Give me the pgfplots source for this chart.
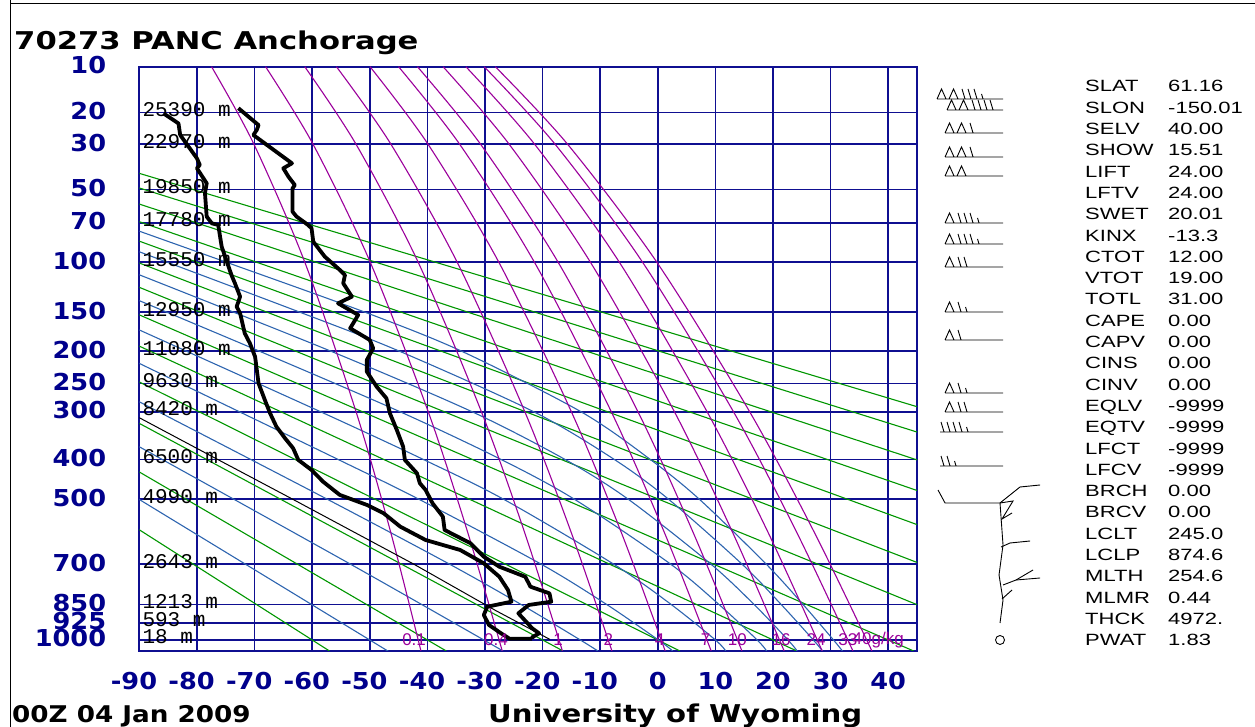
\documentclass[border=0pt]{standalone}
\usepackage{pgfplots}
\pgfplotsset{compat=1.18}
\usepackage{fontspec}
\setmainfont{Liberation Sans}
\newfontfamily\tickfont{DejaVu Sans}[FakeStretch=1.1]
\newfontfamily\titlefont{DejaVu Sans}[FakeStretch=1.25]
\newfontfamily\datefont{DejaVu Sans}[FakeStretch=1.14]
\newfontfamily\unifont{DejaVu Sans}[FakeStretch=1.19]
\newfontfamily\statfont{Liberation Sans}[FakeStretch=1.35]
\newfontfamily\hgtfont{Liberation Mono}
\definecolor{gridnavy}{RGB}{15,15,145}
\definecolor{labnavy}{RGB}{0,0,140}
\definecolor{dagreen}{RGB}{0,150,0}
\definecolor{mablue}{RGB}{45,100,175}
\definecolor{mrpurple}{RGB}{155,0,155}
\pgfplotsset{table/skt/.style={x=T, y expr={0-pow(\thisrow{p},0.286)}, row sep=\\}}
\pgfplotsset{dry/.style={dagreen, line width=1.1bp},
  moist/.style={mablue, line width=1.1bp, smooth},
  mixr/.style={mrpurple, line width=1.1bp, smooth}}
\newcommand\hgt[2]{\node[anchor=base west, inner sep=0pt, font=\hgtfont\fontsize{21bp}{21bp}\selectfont, xshift=3bp, yshift=-4bp] at (axis cs:-90,-#1) {#2};}
\newcommand\mrl[2]{\node[anchor=center, inner sep=0pt, text=mrpurple, font=\fontsize{17bp}{17bp}\selectfont] at (axis cs:#1,-7.21117) {#2};}
% wind barb: x-start, y (px from top), pennants, full barbs, half barb
\newcommand\wbarb[5]{%
  \pgfmathsetmacro\bY{727-#2}%
  \pgfmathsetmacro\bT{\bY+10}%
  \pgfmathsetmacro\bH{\bY+5}%
  \xdef\bx{#1}%
  \xdef\bcoords{(\bx,\bY)}%
  \ifnum#3>0\relax
    \foreach \i in {1,...,#3}{%
      \pgfmathsetmacro\xa{\bx+4.5}\pgfmathsetmacro\xb{\bx+9}\pgfmathsetmacro\xd{\bx+12}%
      \xdef\bcoords{\bcoords (\xa,\bT) (\xb,\bY) (\bx,\bY) (\xd,\bY)}%
      \xdef\bx{\xd}}%
  \fi
  \ifnum#4>0\relax
    \foreach \i in {1,...,#4}{%
      \pgfmathsetmacro\xa{\bx+4}\pgfmathsetmacro\xb{\bx+6}\pgfmathsetmacro\xc{\bx+1}%
      \xdef\bcoords{\bcoords (\xa,\bY) (\xc,\bT) (\xa,\bY) (\xb,\bY)}%
      \xdef\bx{\xb}}%
  \fi
  \ifnum#5>0\relax
      \pgfmathsetmacro\xa{\bx+4}\pgfmathsetmacro\xb{\bx+6}\pgfmathsetmacro\xc{\bx+2.5}%
      \xdef\bcoords{\bcoords (\xa,\bY) (\xc,\bH) (\xa,\bY) (\xb,\bY)}%
  \fi
  \xdef\bcoords{\bcoords (1003,\bY)}%
  \edef\tmp{\noexpand\addplot[black, line width=0.9bp] coordinates {\bcoords};}\tmp
}
\begin{document}
\begin{tikzpicture}
\useasboundingbox (0,0) rectangle (1255bp,727bp);
\begin{axis}[
  at={(139.3bp,76bp)}, anchor=south west, scale only axis,
  width=777.7bp, height=584.3bp,
  xmin=-90, xmax=45, ymin=-7.3125, ymax=-1.93195,
  axis line style={draw=gridnavy, line width=1.7bp},
  grid=major, major grid style={draw=gridnavy, line width=1.6bp},
  major tick length=0pt,
  xtick={-90,-80,...,40},
  xticklabels={\llap{-}90,\llap{-}80,\llap{-}70,\llap{-}60,\llap{-}50,\llap{-}40,\llap{-}30,\llap{-}20,\llap{-}10,0,10,20,30,40},
  ytick={-1.93195,-2.35553,-2.64516,-3.06124,-3.37048,-3.73250,-4.19144,-4.55090,-4.85087,-5.11051,-5.54872,-5.91437,-6.51176,-6.88362,-7.05215,-7.21117},
  yticklabels={10,20,30,50,70,100,150,200,250,300,400,500,700,850,925,1000},
  xticklabel style={font=\tickfont\bfseries\fontsize{23.3bp}{26bp}\selectfont, text=labnavy, anchor=base, inner sep=0pt, yshift=-39bp},
  yticklabel style={font=\tickfont\bfseries\fontsize{23.3bp}{26bp}\selectfont, text=labnavy, anchor=base east, inner sep=0pt, xshift=-33bp, yshift=-7bp},
  clip=true,
]
% dry adiabats (theta = -60 ... 180 C)
\addplot[dry] table[skt]{T p\\-90 588.6\\-57.00 1050\\};
\addplot[dry] table[skt]{T p\\-90 429.9\\-36.72 1050\\};
\addplot[dry] table[skt]{T p\\-90 322.4\\-16.44 1050\\};
\addplot[dry] table[skt]{T p\\-90 247.2\\3.84 1050\\};
\addplot[dry] table[skt]{T p\\-90 193.1\\24.12 1050\\};
\addplot[dry] table[skt]{T p\\-90 153.3\\44.40 1050\\};
\addplot[dry] table[skt]{T p\\-90 123.4\\45 851.1\\};
\addplot[dry] table[skt]{T p\\-90 100.7\\45 694.6\\};
\addplot[dry] table[skt]{T p\\-90 83.0\\45 572.8\\};
\addplot[dry] table[skt]{T p\\-90 69.2\\45 476.9\\};
\addplot[dry] table[skt]{T p\\-90 58.2\\45 401.1\\};
\addplot[dry] table[skt]{T p\\-90 49.3\\45 340.0\\};
\addplot[dry] table[skt]{T p\\-90 42.1\\45 290.4\\};
% moist adiabats (theta-e = -50 ... 110 C)
\addplot[moist] table[skt]{T p\\32.05 1050\\30.5 1000\\25.2 850\\18.8 700\\7.2 500\\-1.3 400\\-13.3 300\\-34.1 200\\-50.9 150\\-74.9 100\\-90 75.7\\};
\addplot[moist] table[skt]{T p\\28.6 1050\\27.0 1000\\21.4 850\\14.6 700\\1.85 500\\-7.55 400\\-21.5 300\\-44.9 200\\-62.2 150\\-90 91.3\\};
\addplot[moist] table[skt]{T p\\24.2 1050\\22.6 1000\\16.7 850\\9.2 700\\-5.15 500\\-16.1 400\\-32.2 300\\-56.8 200\\-90 111.3\\};
\addplot[moist] table[skt]{T p\\18.9 1050\\17.25 1000\\10.6 850\\2.2 700\\-14.5 500\\-27.2 400\\-44.7 300\\-69.2 200\\-90 137.3\\};
\addplot[moist] table[skt]{T p\\11.8 1050\\10 1000\\2.3 850\\-7.7 700\\-26.8 500\\-40.7 400\\-58.5 300\\-90 171.7\\};
\addplot[moist] table[skt]{T p\\2.6 1050\\0.1 1000\\-8.9 850\\-20.3 700\\-41.5 500\\-55.5 400\\-72.6 300\\-90 218.0\\};
\addplot[moist] table[skt]{T p\\-10.4 1050\\-13.45 1000\\-23.76 850\\-36.2 700\\-57.4 500\\-90 281.5\\};
\addplot[moist] table[skt]{T p\\-26.9 1050\\-30.2 1000\\-53.4 700\\-90 371.4\\};
\addplot[moist] table[skt]{T p\\-46.9 1050\\-50 1000\\-90 501\\};
% mixing ratio lines (g/kg)
\addplot[mixr] table[skt]{T p\\-41.11 1050\\-46.30 600\\-52.37 300\\-61.27 100\\-70.11 30\\-77.46 10\\};
\addplot[mixr] table[skt]{T p\\-27.00 1050\\-32.93 600\\-39.84 300\\-49.91 100\\-59.85 30\\-68.08 10\\};
\addplot[mixr] table[skt]{T p\\-16.55 1050\\-23.05 600\\-30.61 300\\-41.59 100\\-52.39 30\\-61.28 10\\};
\addplot[mixr] table[skt]{T p\\-7.96 1050\\-14.96 600\\-23.07 300\\-34.82 100\\-46.33 30\\-55.78 10\\};
\addplot[mixr] table[skt]{T p\\1.29 1050\\-6.26 600\\-14.99 300\\-27.59 100\\-39.89 30\\-49.95 10\\};
\addplot[mixr] table[skt]{T p\\9.27 1050\\1.22 600\\-8.06 300\\-21.41 100\\-34.40 30\\-45.00 10\\};
\addplot[mixr] table[skt]{T p\\14.61 1050\\6.22 600\\-3.43 300\\-17.30 100\\-30.77 30\\-41.72 10\\};
\addplot[mixr] table[skt]{T p\\21.94 1050\\13.08 600\\2.90 300\\-11.69 100\\-25.81 30\\-37.27 10\\};
\addplot[mixr] table[skt]{T p\\28.54 1050\\19.24 600\\8.57 300\\-6.67 100\\-21.39 30\\-33.31 10\\};
\addplot[mixr] table[skt]{T p\\33.88 1050\\24.22 600\\13.15 300\\-2.64 100\\-17.84 30\\-30.14 10\\};
\addplot[mixr] table[skt]{T p\\37.17 1050\\27.28 600\\15.96 300\\-0.16 100\\-15.67 30\\-28.20 10\\};
% parcel path
\addplot[black, line width=1bp] table[skt]{T p\\-18.74 997.4\\-28.15 874.6\\-42.4 700\\-63.4 500\\-76.4 400\\-90 311.3\\};
% dew point
\addplot[black, line width=3.8bp, line join=round] table[skt]{T p\\
-85.8 20.2\\-83.2 23.1\\-82.9 26.8\\-80.0 35.5\\-79.5 38.3\\-80.0 39.8\\-78.3 46.9\\-78.6 52.1\\
-78.3 65.9\\-77.4 70.3\\-76.3 71.4\\-75.7 87.2\\-74.8 99.6\\-74.0 111.5\\-73.4 119.4\\-72.5 133.0\\
-73.1 143.9\\-72.5 151.4\\-71.7 175.9\\-70.8 189.2\\-69.9 208.1\\-69.3 249.4\\-68.2 278.3\\-67.3 302.7\\
-66.2 329.0\\-64.7 353.0\\-63.3 374.6\\-62.4 401.2\\-60.1 425.0\\-58.1 454.1\\-55.2 488.6\\-50.5 515.9\\
-47.6 539.3\\-44.7 579.0\\-40.3 620.4\\-34.3 652.7\\-30.2 697.6\\-27.5 745.1\\-26.0 794.3\\-25.4 839.4\\
-29.6 859.3\\-30.2 893.1\\-29.3 934.8\\-27.2 970.7\\-25.7 995.0\\-21.8 995.0\\};
% temperature
\addplot[black, line width=3.8bp, line join=round] table[skt]{T p\\
-72.8 18.8\\-69.3 23.6\\-69.6 25.1\\-70.2 26.8\\-63.5 37.6\\-65.0 39.8\\-64.1 43.7\\-63.0 47.8\\
-63.4 49.5\\-63.4 62.8\\-62.7 65.9\\-60.7 71.4\\-60.1 73.7\\-59.8 83.4\\-57.8 95.3\\-55.2 106.8\\
-54.3 111.5\\-54.6 119.4\\-53.1 133.0\\-55.5 140.2\\-52.0 153.4\\-53.4 169.6\\-50.0 184.7\\-49.4 196.1\\
-50.5 212.9\\-50.5 230.7\\-48.8 255.1\\-47.1 275.2\\-46.5 302.7\\-45.3 335.7\\-44.2 371.1\\-43.9 401.2\\
-41.8 433.0\\-41.3 458.1\\-40.3 475.4\\-39.1 511.3\\-37.3 549.4\\-37.0 589.2\\-32.5 630.9\\-30.2 675.1\\
-27.5 709.5\\-23.0 745.1\\-22.1 781.9\\-18.8 806.9\\-18.5 839.4\\-22.4 852.4\\-24.2 886.1\\-21.8 948.9\\
-20.6 970.7\\-21.8 988.2\\-21.8 995.0\\};
% height labels
\hgt{2.35553}{25390 m}\hgt{2.64516}{22970 m}\hgt{3.06124}{19850 m}\hgt{3.37048}{17780 m}
\hgt{3.73250}{15550 m}\hgt{4.19144}{12950 m}\hgt{4.55090}{11080 m}\hgt{4.85087}{9630 m}
\hgt{5.11051}{8420 m}\hgt{5.54872}{6500 m}\hgt{5.91437}{4990 m}\hgt{6.51176}{2643 m}
\hgt{6.88362}{1213 m}\hgt{7.05215}{593 m}\hgt{7.21117}{18 m}
% mixing ratio labels
\mrl{-42.3}{0.1}\mrl{-28.1}{0.4}\mrl{-17.3}{1}\mrl{-8.6}{2}\mrl{0.3}{4}\mrl{8.3}{7}
\mrl{13.8}{10}\mrl{21.4}{16}\mrl{27.5}{24}\mrl{33.0}{33}
\node[anchor=west, inner sep=0pt, text=mrpurple, font=\fontsize{17bp}{17bp}\selectfont] at (axis cs:33.8,-7.21117) {40g/kg};
\end{axis}
% wind barbs panel (pixel units)
\begin{axis}[at={(0,0)}, anchor=south west, scale only axis, width=1255bp, height=727bp,
  xmin=0, xmax=1255, ymin=0, ymax=727, hide axis, clip=false]
\wbarb{937}{99}{2}{3}{1}
\wbarb{947}{110}{2}{4}{0}
\wbarb{945}{133}{2}{1}{0}
\wbarb{945}{157}{2}{1}{0}
\wbarb{945}{176}{2}{0}{0}
\wbarb{945}{223}{1}{3}{1}
\wbarb{945}{244}{1}{3}{1}
\wbarb{945}{267}{1}{2}{0}
\wbarb{945}{312}{1}{1}{1}
\wbarb{945}{340}{1}{1}{0}
\wbarb{945}{393}{1}{1}{1}
\wbarb{945}{412}{1}{2}{0}
\wbarb{940}{432}{0}{4}{1}
\wbarb{940}{466}{0}{2}{1}
\addplot[black, line width=0.9bp] coordinates {(938,237) (945,224) (1000,224)};
\addplot[black, line width=0.9bp] coordinates {(1000,224) (1003,182) (999,152) (1003,127) (1000,104)};
\addplot[black, line width=0.9bp] coordinates {(1000,224) (1020,240) (1040,242)};
\addplot[black, line width=0.9bp] coordinates {(1000,224) (1013,226) (1002,208) (1012,214)};
\addplot[black, line width=0.9bp] coordinates {(1001,180) (1010,184) (1030,186)};
\addplot[black, line width=0.9bp] coordinates {(1003,142) (1016,147) (1040,149)};
\addplot[black, line width=0.9bp] coordinates {(1016,147) (1033,157)};
\addplot[black, line width=0.9bp] coordinates {(1002,128) (1012,137)};
\addplot[black, only marks, mark=o, mark size=4.5bp, mark options={line width=0.9bp}] coordinates {(1000,87)};
\end{axis}
% title and footer
\node[anchor=base west, inner sep=0pt, font=\titlefont\bfseries\fontsize{24.5bp}{26bp}\selectfont] at (14bp,677bp) {70273 PANC Anchorage};
\node[anchor=base west, inner sep=0pt, font=\datefont\bfseries\fontsize{23bp}{26bp}\selectfont] at (12bp,5bp) {00Z 04 Jan 2009};
\node[anchor=base west, inner sep=0pt, font=\unifont\bfseries\fontsize{24.5bp}{26bp}\selectfont] at (488bp,5bp) {University of Wyoming};
% station indices
\foreach \lab/\val [count=\i from 0] in {SLAT/61.16,SLON/-150.01,SELV/40.00,SHOW/15.51,LIFT/24.00,LFTV/24.00,SWET/20.01,KINX/-13.3,CTOT/12.00,VTOT/19.00,TOTL/31.00,CAPE/0.00,CAPV/0.00,CINS/0.00,CINV/0.00,EQLV/-9999,EQTV/-9999,LFCT/-9999,LFCV/-9999,BRCH/0.00,BRCV/0.00,LCLT/245.0,LCLP/874.6,MLTH/254.6,MLMR/0.44,THCK/4972.,PWAT/1.83}{
  \pgfmathsetmacro\yy{635-21.3*\i}
  \node[anchor=base west, inner sep=0pt, font=\statfont\fontsize{16.3bp}{17bp}\selectfont] at (1085bp,\yy bp) {\lab};
  \node[anchor=base west, inner sep=0pt, font=\statfont\fontsize{16.3bp}{17bp}\selectfont] at (1168bp,\yy bp) {\val};
}
% frame
\draw[black, line width=1bp] (10.5bp,0) -- (10.5bp,727bp);
\draw[black, line width=1bp] (10.5bp,723.5bp) -- (1255bp,723.5bp);
\end{tikzpicture}
\end{document}
